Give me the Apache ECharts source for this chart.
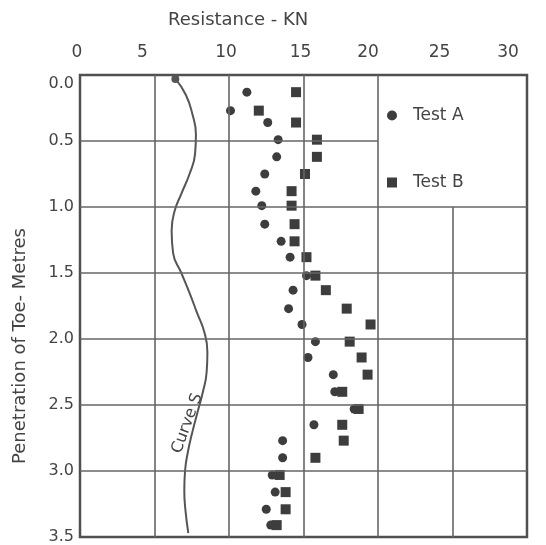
<!DOCTYPE html>
<html>
<head>
<meta charset="utf-8">
<script src="https://cdn.jsdelivr.net/npm/echarts@6/dist/echarts.min.js"></script>
<style>
  html, body { margin: 0; padding: 0; background: #fff; }
  #chart { width: 546px; height: 545px; }
</style>
</head>
<body>
<div id="chart"></div>
<script>
// penetration depth (m) of each reading
var depth = [0.13, 0.27, 0.36, 0.49, 0.62, 0.75, 0.88, 0.99, 1.13, 1.26, 1.38, 1.52, 1.63, 1.77,
             1.89, 2.02, 2.14, 2.27, 2.40, 2.53, 2.65, 2.77, 2.90, 3.03, 3.16, 3.29, 3.41];
// resistance (KN)
var testA = [11.2, 10.1, 12.6, 13.3, 13.2, 12.4, 11.8, 12.2, 12.4, 13.5, 14.1, 15.2, 14.3, 14.0,
             14.9, 15.8, 15.3, 17.0, 17.1, 18.4, 15.7, 13.6, 13.6, 12.9, 13.1, 12.5, 12.8];
var testB = [14.5, 12.0, 14.5, 15.9, 15.9, 15.1, 14.2, 14.2, 14.4, 14.4, 15.2, 15.8, 16.5, 17.9,
             19.5, 18.1, 18.9, 19.3, 17.6, 18.7, 17.6, 17.7, 15.8, 13.4, 13.8, 13.8, 13.2];
// Curve S
var curveX = [6.4, 7.1, 7.55, 7.78, 7.72, 7.35, 6.8, 6.35, 6.15, 6.25, 6.8, 7.35, 7.85, 8.35,
              8.55, 8.5, 8.25, 7.9, 7.55, 7.25, 7.05, 7.0, 7.08, 7.27];
var curveY = [0.03, 0.15, 0.30, 0.45, 0.60, 0.75, 0.90, 1.03, 1.18, 1.35, 1.50, 1.65, 1.80, 1.95,
              2.10, 2.25, 2.40, 2.55, 2.70, 2.85, 3.00, 3.15, 3.30, 3.47];
var xTicks = [0, 5, 10, 15, 20, 25, 30];
var yTicks = [0, 0.5, 1.0, 1.5, 2.0, 2.5, 3.0, 3.5];

var ink = '#444';
var font = 'DejaVu Sans';

// the printed tick numbers sit a little left of their grid lines
var xLabelShift = { 0: 3, 5: 12, 10: 3, 15: 3, 20: 10, 25: 13, 30: 19 };

// grid lines; legend box (20-30, 0-1.0) is left open
var gridSegs = [];
xTicks.slice(1, -1).forEach(function (x) {
    gridSegs.push([{ coord: [x, x === 25 ? 1.0 : 0] }, { coord: [x, 3.5] }]);
});
yTicks.slice(1, -1).forEach(function (y) {
    gridSegs.push([{ coord: [0, y] }, { coord: [y === 0.5 ? 20 : 30, y] }]);
});

var curveData = curveX.map(function (x, i) {
    return i === 0 ? { value: [x, curveY[i]], symbolSize: 8 } : [x, curveY[i]];
});

var chart = echarts.init(document.getElementById('chart'));
chart.setOption({
    animation: false,
    textStyle: { fontFamily: font },
    title: {
        text: 'Resistance - KN',
        left: 163, top: 6,
        textStyle: { fontFamily: font, fontSize: 18, fontWeight: 'normal', color: ink }
    },
    legend: {
        orient: 'vertical',
        left: 382, top: 102,
        itemWidth: 10, itemHeight: 10,
        itemGap: 50,
        data: [{ name: 'Test A', icon: 'circle' }, { name: 'Test B', icon: 'rect' }],
        textStyle: { fontFamily: font, fontSize: 17, color: ink, padding: [0, 0, 0, 11] }
    },
    grid: {
        left: 80, right: 19, top: 75, bottom: 6,
        show: true, borderColor: '#505050', borderWidth: 2.5
    },
    xAxis: {
        type: 'value', position: 'top',
        min: 0, max: 30, interval: 5,
        axisLine: { show: false }, axisTick: { show: false },
        splitLine: { show: false },
        axisLabel: {
            fontFamily: font, fontSize: 17, color: ink, margin: 14,
            formatter: function (v) { return '{v' + v + '|' + v + '}'; },
            rich: (function () {
                var r = {};
                xTicks.forEach(function (v) {
                    r['v' + v] = {
                        fontFamily: font, fontSize: 17, color: ink,
                        padding: [0, 2 * xLabelShift[v], 0, 0]
                    };
                });
                return r;
            })()
        }
    },
    yAxis: {
        type: 'value', inverse: true,
        min: 0, max: 3.5, interval: 0.5,
        axisLine: { show: false }, axisTick: { show: false },
        splitLine: { show: false },
        axisLabel: {
            fontFamily: font, fontSize: 16, color: ink, margin: 6,
            formatter: function (v) {
                return v === 0 ? '{first|0.0}' : v.toFixed(1);
            },
            rich: { first: { fontFamily: font, fontSize: 16, color: ink, padding: [18, 0, 0, 0] } }
        }
    },
    graphic: [{
        type: 'text',
        x: 20, y: 346,
        rotation: Math.PI / 2,
        style: {
            text: 'Penetration of Toe- Metres',
            font: '18px ' + font,
            fill: ink,
            align: 'center',
            verticalAlign: 'middle'
        }
    }],
    series: [
        {
            name: 'Curve S',
            type: 'line',
            smooth: true,
            symbol: 'circle',
            symbolSize: 0,
            showSymbol: true,
            z: 2,
            lineStyle: { color: '#555', width: 2 },
            itemStyle: { color: '#555' },
            data: curveData,
            markLine: {
                silent: true,
                symbol: 'none',
                label: { show: false },
                lineStyle: { color: '#666', width: 1.6, type: 'solid' },
                data: gridSegs
            },
            markPoint: {
                symbol: 'circle',
                symbolSize: 0,
                label: {
                    show: true, position: 'inside', rotate: 70,
                    formatter: 'Curve S',
                    fontFamily: font, fontSize: 16, color: ink
                },
                data: [{ coord: [7.2, 2.64] }]
            }
        },
        {
            name: 'Test A',
            type: 'scatter',
            symbol: 'circle',
            symbolSize: 9,
            z: 4,
            itemStyle: { color: '#3d3d3d', opacity: 1 },
            data: depth.map(function (d, i) { return [testA[i], d]; })
        },
        {
            name: 'Test B',
            type: 'scatter',
            symbol: 'rect',
            symbolSize: 10,
            z: 3,
            itemStyle: { color: '#3d3d3d', opacity: 1 },
            data: depth.map(function (d, i) { return [testB[i], d]; })
        }
    ]
});
</script>
</body>
</html>
